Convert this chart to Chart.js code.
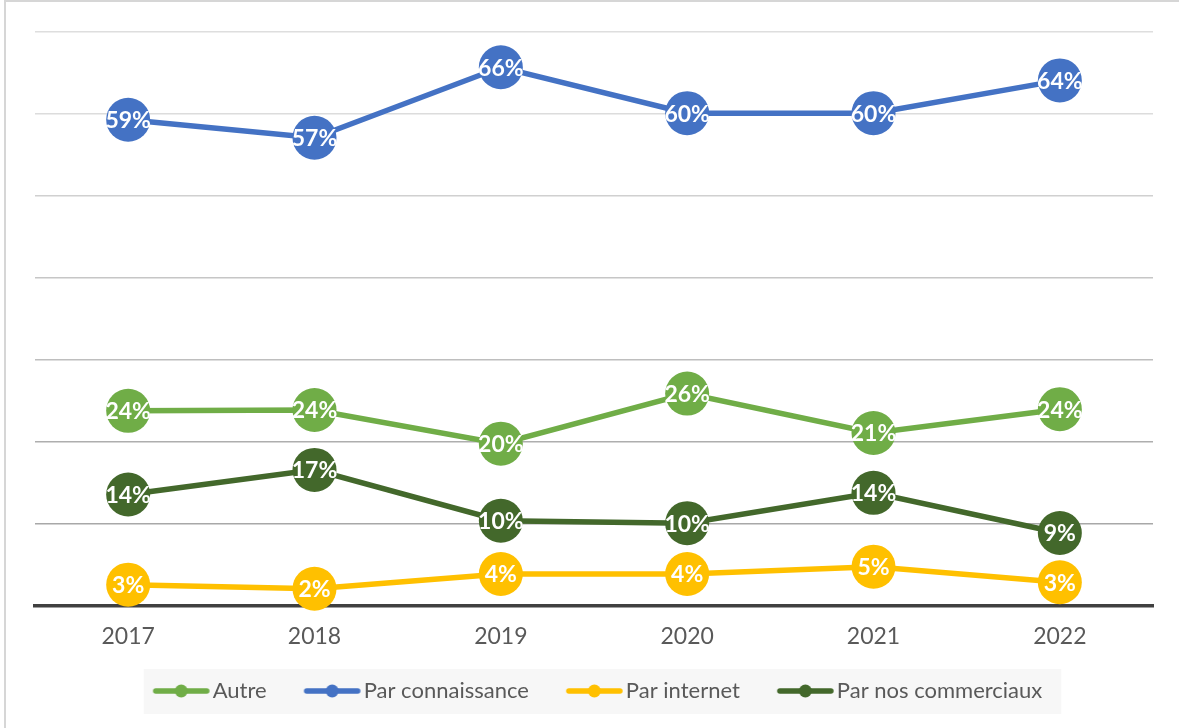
<!DOCTYPE html>
<html>
<head>
<meta charset="utf-8">
<script src="https://cdn.jsdelivr.net/npm/chart.js@4.4.0/dist/chart.umd.min.js"></script>
<style>
  html, body { margin: 0; padding: 0; background: #fff; }
  #wrap { position: relative; width: 1179px; height: 728px; overflow: hidden; }
  #frame { position: absolute; left: 4px; top: 0; width: 1200px; height: 800px; border: 2px solid #d6d6d6; }
  #myChart { position: absolute; left: 0; top: 0; }
</style>
</head>
<body>
<div id="wrap">
  <div id="frame"></div>
  <canvas id="myChart" width="1179" height="728"></canvas>
</div>
<script>
// data (percent)
const years = ["2017", "2018", "2019", "2020", "2021", "2022"];
const autre = [23.8, 23.9, 19.8, 25.9, 21.1, 24.0];
const connaissance = [59.3, 57.1, 65.7, 60.1, 60.1, 64.1];
const internet = [2.6, 2.1, 3.9, 3.9, 4.8, 2.9];
const commerciaux = [13.6, 16.6, 10.4, 10.1, 13.8, 8.9];

const seriesNames = ["Autre", "Par connaissance", "Par internet", "Par nos commerciaux"];
const seriesColors = ["#70AD47", "#4472C4", "#FFC000", "#43682B"];

// grid colours from bottom (0) to top (70), darker near the axis
const gridColors = ["rgba(0,0,0,0)", "#A8A8A8", "#AEAEAE", "#BEBEBE", "#C6C6C6", "#D0D0D0", "#DCDCDC", "#DEDEDE"];

const fontFamily = "Lato, 'Open Sans', sans-serif";

// little line + dot icon for the legend (80 wide, line sits on the right part)
function makeIcon(color) {
  const c = document.createElement("canvas");
  c.width = 80;
  c.height = 16;
  const g = c.getContext("2d");
  g.strokeStyle = color;
  g.lineWidth = 5.5;
  g.lineCap = "round";
  g.beginPath();
  g.moveTo(22, 8);
  g.lineTo(73, 8);
  g.stroke();
  g.fillStyle = color;
  g.beginPath();
  g.arc(47.5, 8, 6.5, 0, Math.PI * 2);
  g.fill();
  return c;
}
const icons = seriesColors.map(makeIcon);

// white percent labels inside the points
const pointLabels = {
  id: "pointLabels",
  afterDatasetsDraw(chart) {
    const ctx = chart.ctx;
    ctx.save();
    ctx.font = "bold 23px " + fontFamily;
    ctx.fillStyle = "#ffffff";
    ctx.textAlign = "center";
    ctx.textBaseline = "middle";
    chart.data.datasets.forEach((ds, i) => {
      const meta = chart.getDatasetMeta(i);
      meta.data.forEach((pt, j) => {
        ctx.fillText(Math.round(ds.data[j]) + "%", pt.x, pt.y + 1);
      });
    });
    ctx.restore();
  }
};

// light grey box behind the legend
const legendBox = {
  id: "legendBox",
  beforeDraw(chart) {
    const boxes = chart.legend && chart.legend.legendHitBoxes;
    if (!boxes || !boxes.length) return;
    const first = boxes[0];
    const last = boxes[boxes.length - 1];
    const cy = first.top + first.height / 2;
    const left = first.left - 2;
    const right = last.left + last.width + 19;
    const ctx = chart.ctx;
    ctx.save();
    ctx.fillStyle = "#f7f7f7";
    ctx.fillRect(left, cy - 22, right - left, 45);
    ctx.restore();
  }
};

function renderChart() {
  const ctx = document.getElementById("myChart");
  const values = [autre, connaissance, internet, commerciaux];

  const datasets = [];
  for (let i = 0; i < values.length; i++) {
    datasets.push({
      label: seriesNames[i],
      data: values[i],
      borderColor: seriesColors[i],
      backgroundColor: seriesColors[i],
      borderWidth: 5.5,
      pointRadius: 22,
      pointHoverRadius: 22,
      pointBorderWidth: 0,
      pointBackgroundColor: seriesColors[i],
      tension: 0,
      clip: false
    });
  }

  new Chart(ctx, {
    type: "line",
    data: { labels: years, datasets: datasets },
    plugins: [legendBox, pointLabels],
    options: {
      responsive: false,
      animation: false,
      layout: { padding: { left: 35, right: 26, top: 32, bottom: 16 } },
      plugins: {
        tooltip: { enabled: false },
        legend: {
          position: "bottom",
          labels: {
            usePointStyle: true,
            pointStyleWidth: 56,
            padding: 30,
            color: "#595959",
            font: { family: fontFamily, size: 22 },
            generateLabels(chart) {
              const items = Chart.defaults.plugins.legend.labels.generateLabels(chart);
              items.forEach((it, i) => { it.pointStyle = icons[i]; });
              return items;
            }
          }
        }
      },
      scales: {
        x: {
          offset: true,
          grid: { display: false, drawTicks: false, offset: true },
          border: { color: "#404040", width: 3.5 },
          ticks: { color: "#595959", font: { family: fontFamily, size: 23 }, padding: 17 },
          afterFit(scale) { scale.height = 44; }
        },
        y: {
          min: 0,
          max: 70,
          ticks: { stepSize: 10, display: false },
          grid: {
            drawTicks: false,
            lineWidth: 1.5,
            color: (c) => gridColors[c.index] || "#DEDEDE"
          },
          border: { display: false },
          afterFit(scale) { scale.width = 0; }
        }
      }
    }
  });
}

renderChart();
</script>
</body>
</html>
